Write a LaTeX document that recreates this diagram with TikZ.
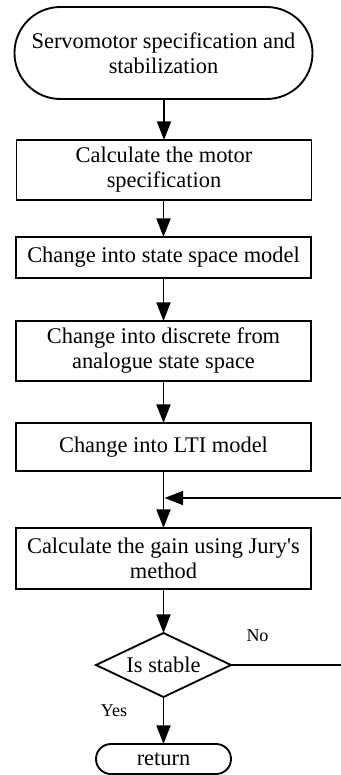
\documentclass[tikz,border=0pt]{standalone}
\usepackage{fontspec}
\setmainfont{Liberation Serif}
\usetikzlibrary{arrows.meta,shapes.geometric}
\begin{document}
\begin{tikzpicture}[x=0.75pt,y=-0.75pt,
  every node/.style={inner sep=0pt,outer sep=0pt},
  box/.style={draw,line width=1.4pt,rectangle,align=center,minimum width=221.25pt,
    font=\fontsize{16.8}{18.75}\selectfont},
  term/.style={draw,line width=1.4pt,rectangle,align=center,
    font=\fontsize{16.8}{18.75}\selectfont},
  lbl/.style={font=\fontsize{13.5}{15}\selectfont},
  conn/.style={line width=1.4pt,-{Triangle[length=14pt,width=10.5pt,fill=black]}},
  plain/.style={line width=1.4pt}]
\useasboundingbox (0,0) rectangle (341,775);
\clip (0,0) rectangle (341,775);
\node[term,minimum width=223.5pt,minimum height=69pt,rounded corners=34.4pt] (start) at (163.5,53) {Servomotor specification and\\stabilization};
\node[box,minimum height=45pt] (b1) at (164,170) {Calculate the motor\\specification};
\node[box,minimum height=30.75pt] (b2) at (163.5,257.5) {Change into state space model};
\node[box,minimum height=45pt] (b3) at (163.5,351) {Change into discrete from\\analogue state space};
\node[box,minimum height=36pt] (b4) at (163.5,447) {Change into LTI model};
\node[box,minimum height=45.75pt] (b5) at (163.5,558.5) {Calculate the gain using Jury\textquotesingle s\\method};
\node[draw,line width=1.4pt,diamond,shape aspect=2.1,minimum width=101.25pt,minimum height=48pt,
  font=\fontsize{16.8}{18.75}\selectfont] (d) at (163.5,665) {Is stable};
\node[term,minimum width=101.25pt,minimum height=22.5pt,rounded corners=11.2pt] (ret) at (163.5,759) {return};
\coordinate (j) at (164.5,498);
\coordinate (r1) at (360,665);
\coordinate (r2) at (360,498);
\node[lbl] (no) at (257.5,636) {No};
\node[lbl] (yes) at (114,711) {Yes};
\draw[conn] (start.south -| b1.north) -- (b1.north);
\draw[conn] (b1.south -| b2.north) -- (b2.north);
\draw[conn] (b2.south) -- (b3.north);
\draw[conn] (b3.south) -- (b4.north);
\draw[conn] (b4.south) -- (b5.north);
\draw[conn] (d.south) -- (ret.north);
\draw[conn] (b5.south) -- (d.north);
\draw[plain] (d.east) -- (r1) -- (r2);
\draw[conn] (r2) -- (j);
\end{tikzpicture}
\end{document}
